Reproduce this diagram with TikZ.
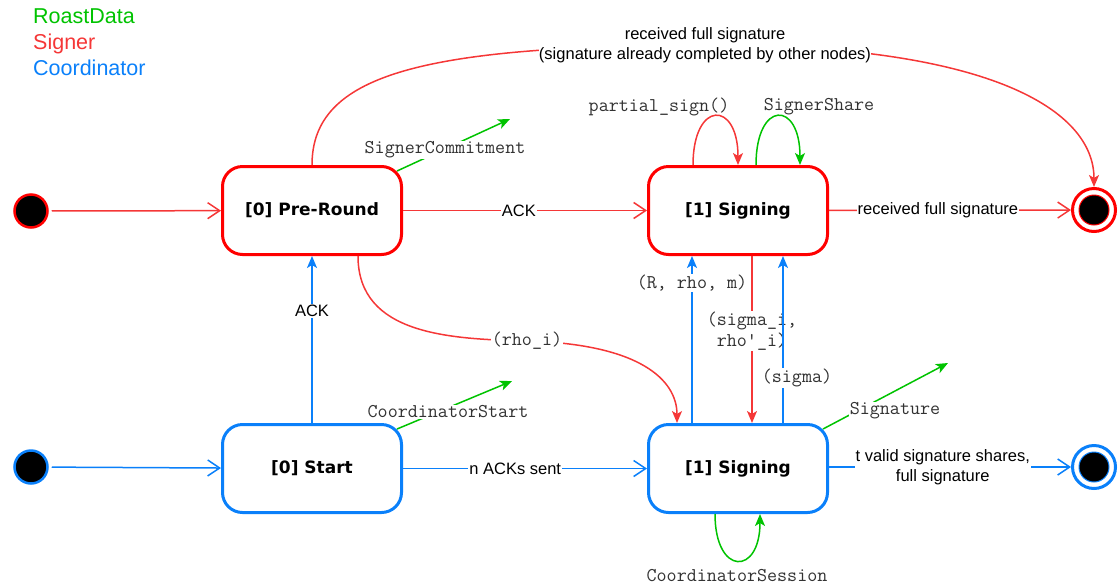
\documentclass[tikz,border=0pt]{standalone}
\usepackage{fontspec}
\setmainfont{Liberation Sans}
\newfontfamily\boxf{DejaVu Sans}
\usetikzlibrary{arrows.meta}
\definecolor{cR}{RGB}{255,0,0}
\definecolor{cRe}{RGB}{245,55,55}
\definecolor{cB}{RGB}{10,128,250}
\definecolor{cG}{RGB}{0,195,0}
\definecolor{cT}{RGB}{50,50,50}
\begin{document}
\begin{tikzpicture}[x=1pt,y=-1pt,
  statebox/.style={draw, line width=3pt, rounded corners=20pt, minimum width=179pt, minimum height=88pt, fill=white, inner sep=0pt, font=\boxf\bfseries\fontsize{17}{20}\selectfont},
  initst/.style={circle, draw, line width=2.5pt, fill=black, minimum size=33pt, inner sep=0pt},
  finst/.style={circle, draw, line width=3pt, fill=white, minimum size=43pt, inner sep=0pt},
  legend/.style={anchor=base west, inner sep=0pt, font=\fontsize{21.5}{24}\selectfont},
  lab/.style={fill=white, inner sep=1pt, text=black, font=\fontsize{16.5}{20}\selectfont, align=center},
  mlab/.style={fill=white, inner sep=1pt, text=cT, font=\ttfamily\fontsize{19.5}{20.5}\selectfont, align=center},
  edge/.style={line width=1.5pt},
  openarr/.style={-{Straight Barb[length=12pt,width=16pt,line width=1.5pt]}},
  fillarr/.style={-{Stealth[length=12pt,width=10pt,inset=3pt]}},
]
\useasboundingbox (0,0) rectangle (1118,587);

% legend
\node[legend, text=cG] (lg1) at (33,23) {RoastData};
\node[legend, text=cRe] (lg2) at (33,49) {Signer};
\node[legend, text=cB] (lg3) at (33,75) {Coordinator};

% states
\node[statebox, draw=cR] (pre) at (312,210.5) {[0] Pre-Round};
\node[statebox, draw=cB] (start) at (312,468.5) {[0] Start};
\node[statebox, draw=cR] (sigR) at (738,210.5) {[1] Signing};
\node[statebox, draw=cB] (sigB) at (738,468.5) {[1] Signing};

\node[initst, draw=cR] (init1) at (31,211) {};
\node[initst, draw=cB] (init2) at (31,467) {};

\node[finst, draw=cR] (fin1) at (1094,210) {};
\node[finst, draw=cB] (fin2) at (1094,467) {};
\fill[black, draw=cR, line width=1pt] (fin1.center) circle (15);
\fill[black, draw=cB, line width=1pt] (fin2.center) circle (15);

% initial transitions
\draw[edge, cRe, openarr, shorten <=3pt] (init1) -- (pre);
\draw[edge, cB, openarr, shorten <=3pt] (init2) -- (start);

% horizontal transitions
\draw[edge, cRe, openarr] (pre) -- node[lab, pos=0.475] {ACK} (sigR);
\draw[edge, cB, openarr] (start) -- node[lab, pos=0.46] {n ACKs sent} (sigB);
\draw[edge, cRe, openarr] (sigR) -- node[lab, pos=0.45] {received full signature} (fin1);
\draw[edge, cB, openarr] (sigB.east |- fin2.west) -- node[lab, pos=0.47] {t valid signature shares,\\full signature} (fin2);

% start -> pre-round
\draw[edge, cB, fillarr] (start) -- node[lab, pos=0.67] {ACK} (pre);

% top long curve
\draw[edge, cRe, fillarr] (pre.north) .. controls (312,75) and (420,46) .. (705,45)
  .. controls (990,44) and (1094,110) .. (fin1.north);
\node[lab, inner sep=0pt] (toplab) at (705,45) {received full signature\\(signature already completed by other nodes)};

% rho_i curve
\draw[edge, cRe, fillarr] ([xshift=46pt]pre.south) .. controls (358,335) and (450,339) .. (527,341)
  .. controls (640,344) and (677,380) .. ([xshift=-61pt]sigB.north);
\node[mlab] (rholab) at (527,341) {(rho\_i)};

% self loops on signer signing
\draw[edge, cRe, fillarr] ([xshift=-45pt]sigR.north) .. controls (693,100) and (738,100) .. (sigR.north);
\node[mlab, fill=none] (pslab) at (659,107) {partial\_sign()};
\draw[edge, cG, fillarr] ([xshift=18pt]sigR.north) .. controls (756,100) and (800,100) .. ([xshift=62pt]sigR.north);
\node[mlab, fill=none] (sslab) at (819,107) {SignerShare};

% verticals between signings
\draw[edge, cRe, fillarr] ([xshift=14pt]sigR.south) -- node[mlab, pos=0.45] {(sigma\_i,\\rho\textquotesingle\_i)} ([xshift=14pt]sigB.north);
\draw[edge, cB, fillarr] ([xshift=-46pt]sigB.north) -- node[mlab, pos=0.84] {(R, rho, m)} ([xshift=-46pt]sigR.south);
\draw[edge, cB, fillarr] ([xshift=45pt]sigB.north) -- node[mlab, pos=0.27, xshift=14pt] {(sigma)} ([xshift=45pt]sigR.south);

% bottom self loop
\draw[edge, cG, fillarr] ([xshift=-23pt]sigB.south) .. controls (715,576) and (760,576) .. ([xshift=22pt]sigB.south);
\node[mlab, fill=none] (cslab) at (737,576) {CoordinatorSession};

% green outgoing messages
\coordinate (g1) at (510,119);
\coordinate (g2) at (512,381);
\coordinate (g3) at (948,363);
\draw[edge, cG, fillarr] ([shift={(-6pt,-6pt)}]pre.north east) -- (g1);
\node[mlab] (sclab) at (445,150) {SignerCommitment};
\draw[edge, cG, fillarr] ([shift={(-6pt,-6pt)}]start.north east) -- (g2);
\node[mlab] (cstlab) at (448,412) {CoordinatorStart};
\draw[edge, cG, fillarr] ([shift={(-6pt,-6pt)}]sigB.north east) -- (g3);
\node[mlab] (siglab) at (895,411) {Signature};
\end{tikzpicture}
\end{document}
